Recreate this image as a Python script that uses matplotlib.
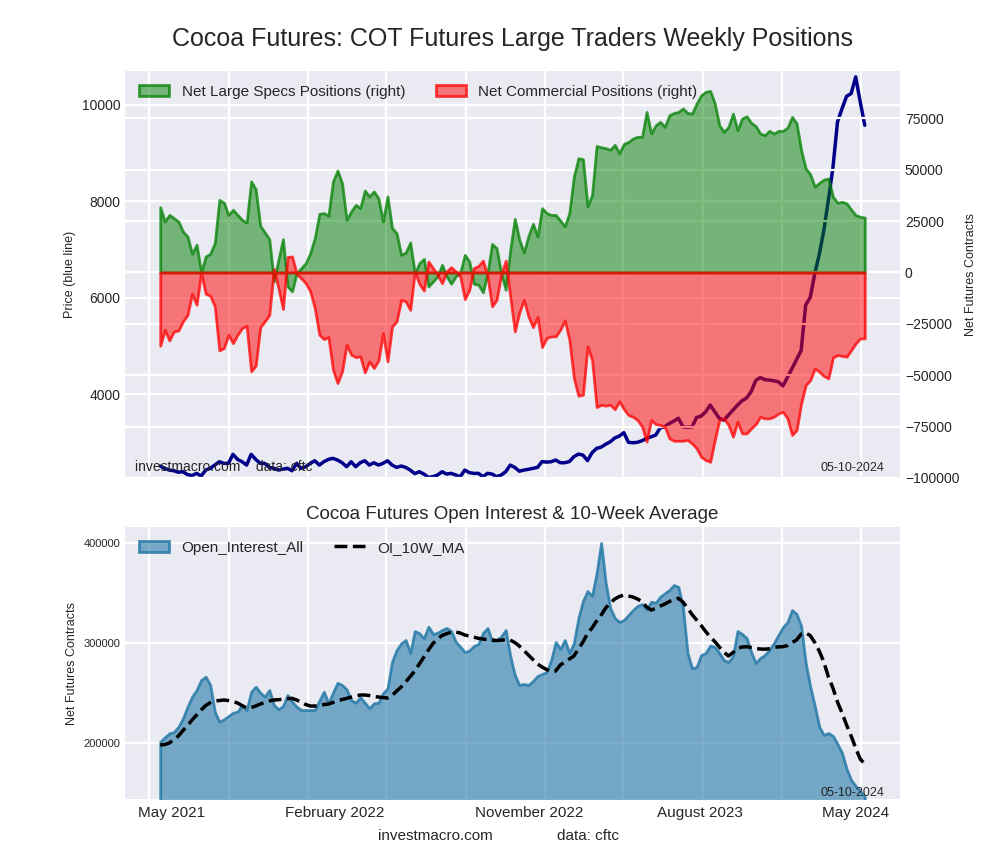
import matplotlib
matplotlib.use("Agg")
import matplotlib.pyplot as plt
import matplotlib.dates as mdates
from matplotlib.ticker import MultipleLocator, NullFormatter
import pandas as pd

plt.style.use("seaborn-v0_8-darkgrid")
plt.rcParams["font.family"] = ["Liberation Sans", "DejaVu Sans"]
plt.rcParams["grid.linewidth"] = 1.6

# posiciones netas semanales (contratos)
specs = [31800, 24800, 28000, 26400, 24800, 19900, 17500, 9100, 13500, 0,
         7800, 9100, 14300, 35300, 34000, 28000, 30500, 28000, 25600, 24300,
         44300, 40500, 22700, 19500, 16200, -4400, 6200, 16200, -6800, -9200,
         -300, 2100, 4500, 9400, 16700, 28500, 28900, 27600, 44300, 49600,
         43400, 25600, 29700, 32900, 31300, 39900, 37000, 39400, 36100, 24800,
         37000, 21600, 19100, 8600, 9700, 14600, -500, 4500, 6600, -6800,
         -4400, -1900, 3700, -1900, -5500, -1900, -300, 8600, 5300, -5500,
         -6000, -9700, -300, 13900, 11800, -300, -8400, 11000, 26100, 15900,
         9700, 17800, 23700, 17500, 31300, 28900, 28000, 28000, 25300, 22400,
         28900, 46700, 55600, 55100, 32100, 37800, 61600, 60900, 60500, 59700,
         62100, 58000, 62600, 63500, 65200, 66000, 66000, 78100, 67600, 71600,
         73300, 70800, 76500, 77600, 78100, 79800, 77600, 77300, 82200, 86200,
         87900, 88300, 82200, 71600, 68400, 70800, 77300, 69200, 74900, 76000,
         72800, 71200, 67600, 66800, 68900, 67600, 68900, 68900, 70500, 75700,
         72500, 59500, 50600, 47800, 41700, 43600, 45200, 45700, 36800, 33900,
         34400, 33600, 30600, 27900, 27100, 26700]

comm = [-35700, -27900, -33100, -28700, -28200, -23800, -20600, -10400, -15700, 0,
        -10400, -11300, -16500, -37900, -36800, -30300, -34400, -30300, -27100, -25900,
        -48100, -45400, -26600, -23800, -20600, 1600, -7600, -17800, 7500, 7800,
        -600, -2800, -5200, -9200, -17300, -30300, -32400, -31400, -47300, -53800,
        -48100, -35200, -40000, -41200, -40800, -48600, -43300, -46500, -42800, -29500,
        -43300, -26300, -23800, -13300, -14100, -18200, 500, -5500, -8800, 5300,
        2100, -1100, -5200, 500, 2600, 500, -1900, -13000, -8400, 2100,
        3200, 5800, -1900, -16500, -13300, -1100, 5800, -11700, -28700, -19500,
        -13300, -21400, -26600, -21700, -36300, -31900, -31100, -31100, -27900, -23300,
        -32700, -51400, -60000, -59500, -36000, -42500, -65500, -64400, -64800, -64400,
        -66500, -62700, -66500, -69400, -70200, -71800, -75000, -82300, -71800, -73800,
        -74200, -75000, -80700, -81900, -81900, -81900, -81500, -83200, -85600, -89700,
        -91300, -92100, -81500, -71800, -71000, -74200, -79900, -72600, -78300, -78300,
        -75900, -73800, -70200, -71000, -71000, -70200, -68600, -67800, -71000, -79100,
        -76700, -63700, -54800, -52400, -46700, -48300, -50400, -51500, -41300, -40200,
        -40600, -41000, -37800, -34500, -32100, -32100]

price = [2507, 2460, 2424, 2410, 2380, 2390, 2330, 2310, 2356, 2300,
         2424, 2460, 2528, 2597, 2563, 2563, 2750, 2646, 2597, 2528,
         2750, 2646, 2563, 2563, 2480, 2460, 2424, 2445, 2460, 2411,
         2563, 2460, 2494, 2563, 2618, 2528, 2597, 2646, 2667, 2632,
         2577, 2494, 2597, 2494, 2577, 2618, 2528, 2577, 2528, 2563,
         2618, 2528, 2480, 2508, 2480, 2424, 2350, 2390, 2342, 2273,
         2287, 2321, 2390, 2342, 2356, 2321, 2287, 2424, 2370, 2356,
         2356, 2287, 2356, 2342, 2287, 2321, 2390, 2528, 2480, 2400,
         2424, 2440, 2460, 2480, 2600, 2590, 2597, 2632, 2577, 2577,
         2600, 2700, 2756, 2735, 2620, 2784, 2874, 2900, 2960, 3010,
         3090, 3129, 3200, 3000, 2991, 3000, 3033, 3080, 3116, 3150,
         3300, 3323, 3390, 3440, 3500, 3320, 3310, 3320, 3516, 3544,
         3633, 3772, 3633, 3496, 3460, 3565, 3668, 3772, 3861, 3920,
         4050, 4280, 4345, 4300, 4290, 4276, 4255, 4170, 4350, 4530,
         4720, 4900, 5850, 6004, 6500, 6900, 7400, 8030, 8700, 9645,
         9922, 10177, 10233, 10578, 10059, 9576]

oi = [201300, 205700, 209700, 211000, 216300, 224700, 236300, 246300, 253000, 263000,
      266300, 258000, 231300, 221300, 223700, 227000, 230300, 231300, 238000, 233000,
      251300, 256300, 250300, 246300, 253000, 238000, 233700, 237000, 248000, 241300,
      236300, 233000, 233000, 233000, 233000, 242300, 251300, 239700, 250300, 260300,
      258000, 253700, 243000, 240300, 245700, 240300, 234700, 239700, 240300, 249700,
      254700, 281300, 293000, 299700, 303000, 290000, 312000, 309700, 304700, 316300,
      309000, 310300, 313000, 315000, 312000, 301300, 296300, 291000, 292500, 297000,
      299000, 310000, 315000, 302000, 303000, 306500, 313000, 287000, 268000, 258000,
      259000, 258000, 262000, 267000, 269000, 271000, 283000, 301000, 294000, 303000,
      290000, 300000, 325000, 342000, 352000, 347000, 370000, 400000, 360000, 335000,
      325000, 321000, 323000, 328000, 333000, 337000, 339000, 333700, 341300, 340300,
      346300, 349700, 353000, 358000, 356000, 335000, 290000, 274700, 276000, 288000,
      290000, 297500, 296000, 290000, 283000, 281000, 287000, 312000, 309000, 305000,
      291000, 280000, 285000, 288000, 293000, 300000, 308000, 316000, 321000, 333000,
      329000, 317000, 280000, 256300, 237000, 216000, 208000, 210000, 207000, 199000,
      190000, 174000, 163000, 157000, 152000, 146000]

oi_ma = [198000, 198500, 200000, 203500, 207000, 212500, 217500, 223000, 228000, 233000,
         237500, 240300, 242000, 242500, 243000, 242500, 241500, 240000, 237500, 235000,
         235500, 237000, 239000, 240500, 242000, 243000, 243300, 243700, 244300, 244700,
         243000, 241000, 238500, 237000, 237000, 237500, 238500, 239000, 240500, 242300,
         243500, 244700, 246000, 247000, 248000, 248000, 247500, 246500, 246000, 245500,
         245000, 247500, 252000, 256000, 261000, 266500, 272000, 279000, 286000, 293000,
         299500, 304000, 307500, 309300, 310800, 311000, 310000, 308000, 307000, 305800,
         304700, 304000, 303300, 303000, 302500, 302800, 303500, 303000, 300500, 297000,
         292500, 288000, 283500, 279000, 276000, 273500, 271500, 272000, 278000, 281000,
         284000, 287000, 294000, 301000, 309500, 315000, 322000, 328000, 335000, 340000,
         344000, 346500, 348000, 347000, 346000, 344000, 341500, 336000, 333000, 334500,
         337000, 339000, 341500, 343500, 344700, 341000, 335000, 328500, 323000, 317500,
         311500, 306000, 301500, 296000, 291000, 287000, 290500, 294500, 296000, 296300,
         295500, 294500, 294000, 293800, 294300, 295500, 296200, 296300, 297500, 300500,
         303000, 309000, 310000, 307500, 300500, 291800, 281000, 266000, 255000, 241000,
         230000, 218000, 207000, 195000, 184000, 179000]

fechas = pd.date_range(end="2024-05-07", periods=len(specs), freq="7D")

etiquetas_fecha = pd.to_datetime(["2021-06-04", "2022-02-11", "2022-12-07",
                                  "2023-08-27", "2024-04-23"])
etiquetas = ["May 2021", "February 2022", "November 2022", "August 2023", "May 2024"]

fig = plt.figure(figsize=(10, 8.6), dpi=100)
ax1 = fig.add_axes([0.125, 0.4442, 0.775, 0.4732])
ax3 = fig.add_axes([0.125, 0.0709, 0.775, 0.3163])

# panel superior: precio + posiciones netas
ax1.plot(fechas, price, color="darkblue", lw=2.5)
ax1.set_ylim(2260, 10700)
ax1.yaxis.set_major_locator(MultipleLocator(2000))
ax1.set_ylabel("Price (blue line)", fontsize=9)
ax1.tick_params(axis="y", labelsize=10)
ax1.xaxis.set_major_locator(mdates.MonthLocator(bymonth=[1, 5, 9]))
ax1.xaxis.set_major_formatter(NullFormatter())
ax1.set_title("Cocoa Futures: COT Futures Large Traders Weekly Positions",
              fontsize=18, pad=18)

ax2 = ax1.twinx()
ax2.fill_between(fechas, 0, specs, facecolor=(0, 0.5, 0, 0.5),
                 edgecolor=(0, 0.5, 0, 0.75), lw=2,
                 label="Net Large Specs Positions (right)")
ax2.fill_between(fechas, 0, comm, facecolor=(1, 0, 0, 0.5),
                 edgecolor=(1, 0, 0, 0.75), lw=2,
                 label="Net Commercial Positions (right)")
ax2.set_ylim(-100000, 98000)
ax2.yaxis.set_major_locator(MultipleLocator(25000))
ax2.tick_params(axis="y", labelsize=10)
ax2.set_ylabel("Net Futures Contracts", fontsize=9)
ax2.legend(loc="upper left", ncol=2, frameon=False, fontsize=11)
ax2.text(0.013, 0.01, "investmacro.com    data: cftc", transform=ax2.transAxes,
         fontsize=10, va="bottom")
ax2.text(0.98, 0.01, "05-10-2024", transform=ax2.transAxes, fontsize=9,
         ha="right", va="bottom")

# panel inferior: open interest
azul = (0.15, 0.48, 0.66)
ax3.fill_between(fechas, 0, oi, facecolor=azul + (0.6,),
                 edgecolor=azul + (0.85,), lw=2,
                 label="Open_Interest_All")
ax3.plot(fechas, oi_ma, color="black", ls="--", lw=2.5, label="OI_10W_MA")
ax3.set_xlim(ax1.get_xlim())
ax3.set_ylim(144000, 416000)
ax3.yaxis.set_major_locator(MultipleLocator(100000))
ax3.tick_params(axis="y", labelsize=8)
ax3.set_ylabel("Net Futures Contracts", fontsize=9)
ax3.xaxis.set_major_locator(mdates.MonthLocator(bymonth=[1, 5, 9]))
ax3.xaxis.set_major_formatter(NullFormatter())
ax3.set_xticks(etiquetas_fecha, labels=etiquetas, minor=True)
ax3.tick_params(axis="x", which="minor", labelsize=11, pad=5)
ax3.grid(False, which="minor")
ax3.set_title("Cocoa Futures Open Interest & 10-Week Average", fontsize=13.5, pad=6)
ax3.legend(loc="upper left", ncol=2, frameon=False, fontsize=11)
ax3.text(0.98, 0.0, "05-10-2024", transform=ax3.transAxes, fontsize=9,
         ha="right", va="bottom")

fig.text(0.378, 0.028, "investmacro.com", fontsize=11, va="center")
fig.text(0.557, 0.028, "data: cftc", fontsize=11, va="center")

fig.savefig("out.png", dpi=100)
